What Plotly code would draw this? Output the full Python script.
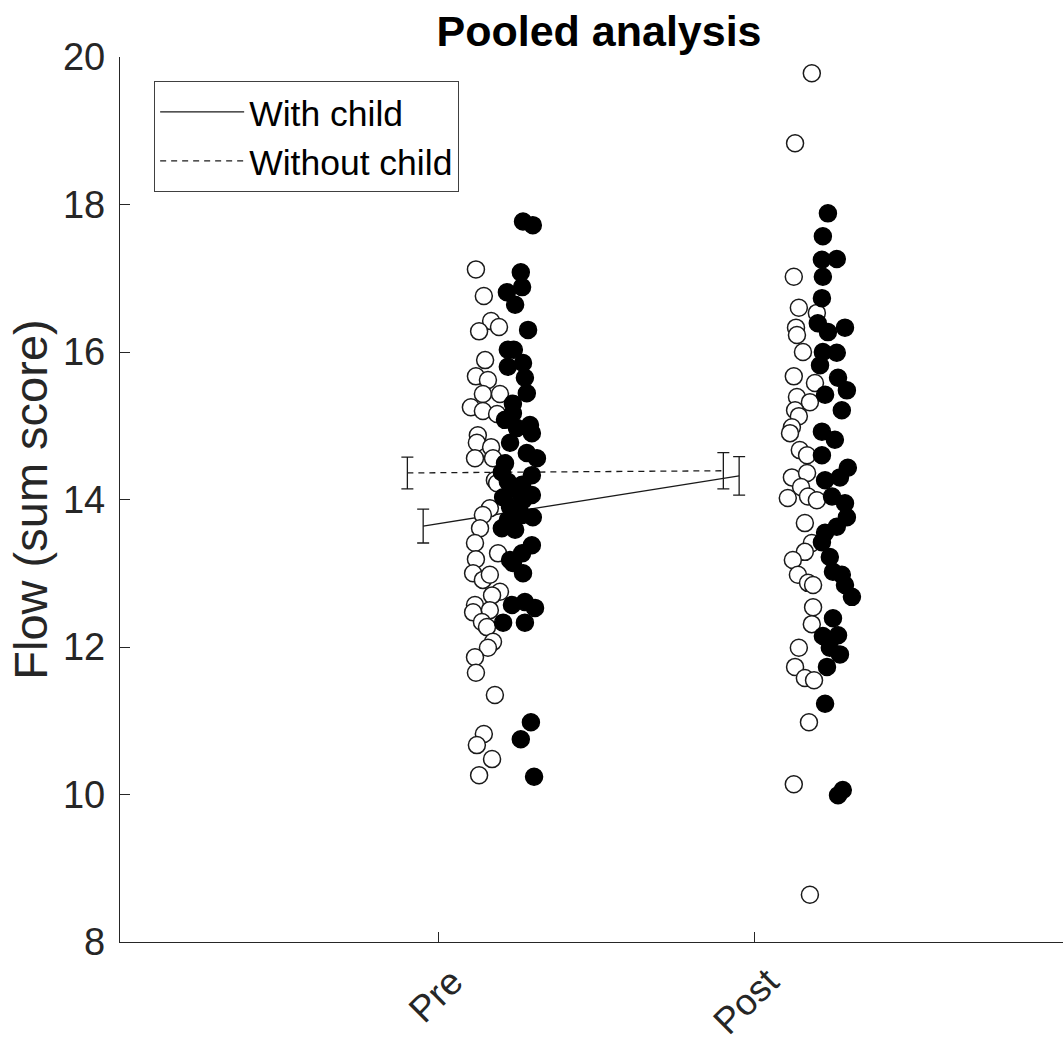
import plotly.graph_objects as go

# ---------------- data ----------------
categories = ["Pre", "Post"]
category_pos = [1, 2]

# individual scores (x includes jitter, data units)
pre_open_x = [1.117, 1.142, 1.165, 1.190, 1.127, 1.146, 1.117, 1.155, 1.139, 1.193,
              1.101, 1.139, 1.184, 1.123, 1.120, 1.165, 1.114, 1.171, 1.177, 1.184,
              1.161, 1.139, 1.130, 1.114, 1.187, 1.117, 1.108, 1.139, 1.161, 1.193,
              1.168, 1.114, 1.161, 1.108, 1.136, 1.152, 1.171, 1.155, 1.114, 1.117,
              1.177, 1.142, 1.120, 1.168, 1.127]
pre_open_y = [17.12, 16.76, 16.42, 16.34, 16.28, 15.89, 15.67, 15.62, 15.43, 15.43,
              15.25, 15.20, 15.16, 14.87, 14.77, 14.71, 14.56, 14.56, 14.26, 14.22,
              13.88, 13.79, 13.61, 13.41, 13.27, 13.19, 13.00, 12.91, 12.98, 12.75,
              12.70, 12.57, 12.50, 12.47, 12.34, 12.27, 12.07, 11.99, 11.86, 11.65,
              11.35, 10.82, 10.67, 10.48, 10.26]

pre_fill_x = [1.266, 1.297, 1.259, 1.263, 1.215, 1.241, 1.282, 1.218, 1.237, 1.266,
              1.218, 1.272, 1.278, 1.234, 1.234, 1.209, 1.288, 1.247, 1.294, 1.225,
              1.278, 1.310, 1.209, 1.199, 1.294, 1.218, 1.263, 1.241, 1.294, 1.203,
              1.266, 1.225, 1.297, 1.263, 1.218, 1.241, 1.199, 1.294, 1.263, 1.234,
              1.225, 1.266, 1.231, 1.272, 1.304, 1.203, 1.272, 1.291, 1.259, 1.301]
pre_fill_y = [17.77, 17.72, 17.08, 16.88, 16.81, 16.64, 16.30, 16.03, 16.03, 15.85,
              15.80, 15.65, 15.44, 15.30, 15.17, 15.08, 15.01, 14.97, 14.90, 14.77,
              14.63, 14.56, 14.49, 14.37, 14.33, 14.24, 14.20, 14.13, 14.06, 14.03,
              13.99, 13.90, 13.76, 13.79, 13.72, 13.59, 13.61, 13.38, 13.27, 13.14,
              13.18, 13.00, 12.57, 12.61, 12.53, 12.33, 12.33, 10.98, 10.75, 10.24]

post_open_x = [2.180, 2.127, 2.123, 2.139, 2.196, 2.130, 2.133, 2.152, 2.123, 2.190,
               2.133, 2.174, 2.127, 2.139, 2.117, 2.111, 2.142, 2.165, 2.117, 2.165,
               2.146, 2.104, 2.168, 2.196, 2.158, 2.180, 2.158, 2.120, 2.136, 2.168,
               2.184, 2.184, 2.180, 2.139, 2.127, 2.158, 2.187, 2.171, 2.123, 2.174]
post_open_y = [19.78, 18.83, 17.02, 16.60, 16.53, 16.33, 16.23, 16.00, 15.67, 15.58,
               15.39, 15.32, 15.21, 15.13, 14.98, 14.90, 14.67, 14.60, 14.30, 14.36,
               14.17, 14.02, 14.04, 13.99, 13.68, 13.41, 13.29, 13.18, 12.98, 12.87,
               12.84, 12.54, 12.31, 11.99, 11.73, 11.58, 11.55, 10.98, 10.14, 8.64]

post_fill_x = [2.231, 2.215, 2.212, 2.259, 2.215, 2.212, 2.199, 2.231, 2.285, 2.215,
               2.259, 2.206, 2.263, 2.291, 2.222, 2.275, 2.212, 2.253, 2.212, 2.294,
               2.269, 2.222, 2.244, 2.285, 2.291, 2.259, 2.222, 2.212, 2.237, 2.247,
               2.275, 2.285, 2.307, 2.247, 2.215, 2.263, 2.237, 2.269, 2.228, 2.222,
               2.263, 2.278]
post_fill_y = [17.88, 17.57, 17.25, 17.26, 17.02, 16.73, 16.39, 16.27, 16.33, 16.00,
               15.99, 15.82, 15.65, 15.48, 15.42, 15.21, 14.92, 14.81, 14.60, 14.43,
               14.30, 14.26, 14.04, 13.95, 13.76, 13.63, 13.55, 13.42, 13.22, 13.02,
               12.98, 12.84, 12.68, 12.39, 12.15, 12.16, 11.99, 11.90, 11.73, 11.23,
               9.99, 10.06]

# group means with standard errors
with_child_x = [0.95, 1.95]
with_child_mean = [13.64, 14.32]
with_child_se = [0.23, 0.26]
without_child_x = [0.90, 1.90]
without_child_mean = [14.36, 14.39]
without_child_se = [0.215, 0.245]

FONT = "Liberation Sans, Arial, Helvetica, sans-serif"
AX = "#262626"

fig = go.Figure()

# mean lines (legend entries)
fig.add_trace(go.Scatter(x=with_child_x, y=with_child_mean, mode="lines",
                         name="With child", line=dict(color="#1a1a1a", width=1.3)))
fig.add_trace(go.Scatter(x=without_child_x, y=without_child_mean, mode="lines",
                         name="Without child",
                         line=dict(color="#1a1a1a", width=1.3, dash="6px,5px")))

# error bars
for xs, ms, se in [(with_child_x, with_child_mean, with_child_se),
                   (without_child_x, without_child_mean, without_child_se)]:
    fig.add_trace(go.Scatter(x=xs, y=ms, mode="markers", showlegend=False,
                             marker=dict(size=1, color="rgba(0,0,0,0)"),
                             error_y=dict(type="data", array=se, visible=True,
                                          color="#1a1a1a", thickness=1.3, width=6),
                             hoverinfo="skip"))

open_marker = dict(size=17, color="white", line=dict(color="#1a1a1a", width=1.5))
fill_marker = dict(size=17, color="black", line=dict(color="black", width=1.5))

fig.add_trace(go.Scatter(x=pre_open_x, y=pre_open_y, mode="markers",
                         marker=open_marker, showlegend=False))
fig.add_trace(go.Scatter(x=pre_fill_x, y=pre_fill_y, mode="markers",
                         marker=fill_marker, showlegend=False))
fig.add_trace(go.Scatter(x=post_open_x, y=post_open_y, mode="markers",
                         marker=open_marker, showlegend=False))
fig.add_trace(go.Scatter(x=post_fill_x, y=post_fill_y, mode="markers",
                         marker=fill_marker, showlegend=False))

fig.update_layout(
    width=1063, height=1041,
    margin=dict(l=120, r=0, t=57, b=99, autoexpand=False),
    paper_bgcolor="white", plot_bgcolor="white",
    font=dict(family=FONT, color=AX),
    title=dict(text="<b>Pooled analysis</b>", xref="paper", x=0.508,
               xanchor="center", yref="container", y=1 - 31 / 1041,
               yanchor="middle",
               font=dict(size=43, color="black", family=FONT)),
    legend=dict(x=0.036, y=1.0 - 24 / 885, xanchor="left", yanchor="top",
                bordercolor="#404040", borderwidth=1.2, bgcolor="white",
                font=dict(size=35.5, color="black", family=FONT),
                itemwidth=84, tracegroupgap=0),
    showlegend=True,
)

fig.update_xaxes(range=[-0.0095, 2.975], tickvals=category_pos, ticktext=categories,
                 tickangle=-45, ticks="inside", ticklen=10, tickcolor=AX,
                 ticklabelshift=13, ticklabelstandoff=2,
                 showline=True, linecolor=AX, linewidth=1.3, showgrid=False,
                 zeroline=False, tickfont=dict(size=37, color=AX, family=FONT))
fig.update_yaxes(range=[8, 20], dtick=2, ticks="inside", ticklen=10, tickcolor=AX,
                 ticklabelstandoff=6,
                 showline=True, linecolor=AX, linewidth=1.3, showgrid=False,
                 zeroline=False, tickfont=dict(size=38, color=AX, family=FONT),
                 title=dict(text="Flow (sum score)", standoff=0,
                            font=dict(size=47, color=AX, family=FONT)))

# remove the default 8px page margin so the figure fills the window exactly
fig.write_html("out.html",
               config={"displayModeBar": False},
               post_script="document.body.style.margin='0';"
                           "document.body.style.overflow='hidden';")
